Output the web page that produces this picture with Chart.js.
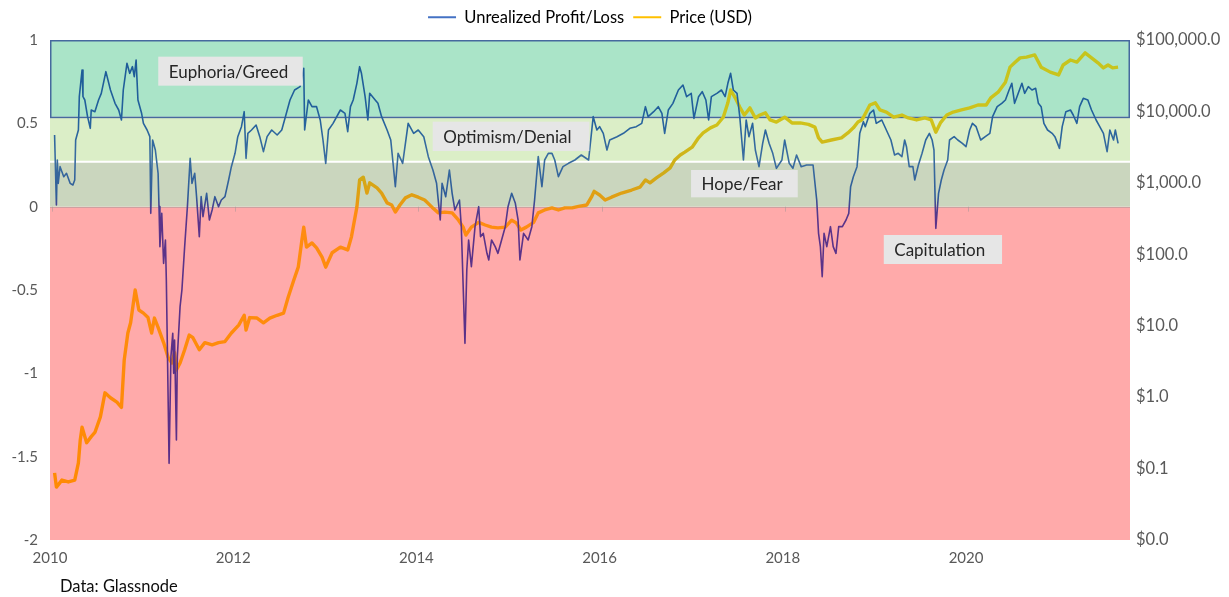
<!DOCTYPE html>
<html>
<head>
<meta charset="utf-8">
<script src="https://cdn.jsdelivr.net/npm/chart.js@4.4.1/dist/chart.umd.min.js"></script>
<style>
  html, body { margin: 0; padding: 0; background: #ffffff; }
  #wrap { width: 1229px; height: 597px; }
</style>
</head>
<body>
<div id="wrap"><canvas id="c" width="1229" height="597"></canvas></div>
<script>
// ---------- DATA ----------
const seriesNames = ['Unrealized Profit/Loss', 'Price (USD)'];

const nuplDates = [
  2010.05,2010.07,2010.08,2010.09,2010.11,2010.15,2010.18,2010.22,2010.25,2010.27,2010.28,2010.31,2010.32,2010.35,2010.36,2010.38,2010.41,2010.44,2010.45,2010.49,
  2010.53,2010.56,2010.61,2010.66,2010.71,2010.75,2010.78,2010.80,2010.84,2010.87,2010.90,2010.92,2010.94,2010.96,2011.00,2011.02,2011.06,2011.09,2011.10,2011.12,
  2011.15,2011.18,2011.19,2011.20,2011.22,2011.24,2011.26,2011.27,2011.28,2011.30,2011.32,2011.34,2011.35,2011.36,2011.38,2011.39,2011.42,2011.44,2011.47,2011.50,
  2011.53,2011.55,2011.58,2011.60,2011.63,2011.65,2011.67,2011.71,2011.74,2011.77,2011.80,2011.84,2011.87,2011.91,2011.95,2011.98,2012.02,2012.05,2012.09,2012.12,
  2012.14,2012.16,2012.20,2012.25,2012.29,2012.33,2012.37,2012.42,2012.48,2012.53,2012.57,2012.62,2012.67,2012.73,2012.77,2012.78,2012.82,2012.86,2012.91,2012.95,
  2012.98,2013.01,2013.04,2013.09,2013.17,2013.22,2013.25,2013.28,2013.31,2013.35,2013.38,2013.40,2013.44,2013.47,2013.49,2013.55,2013.58,2013.62,2013.68,2013.72,
  2013.77,2013.80,2013.85,2013.91,2013.97,2014.02,2014.08,2014.13,2014.18,2014.22,2014.26,2014.28,2014.32,2014.36,2014.39,2014.42,2014.47,2014.49,2014.53,2014.55,
  2014.57,2014.60,2014.64,2014.68,2014.70,2014.73,2014.77,2014.79,2014.82,2014.86,2014.89,2014.93,2014.97,2015.00,2015.04,2015.08,2015.11,2015.13,2015.17,2015.22,
  2015.26,2015.29,2015.33,2015.37,2015.40,2015.44,2015.48,2015.51,2015.55,2015.60,2015.66,2015.73,2015.80,2015.88,2015.93,2015.97,2016.00,2016.04,2016.08,2016.11,
  2016.19,2016.26,2016.33,2016.40,2016.46,2016.50,2016.53,2016.59,2016.64,2016.68,2016.71,2016.75,2016.80,2016.86,2016.91,2016.95,2017.00,2017.03,2017.08,2017.12,
  2017.16,2017.19,2017.22,2017.28,2017.33,2017.37,2017.40,2017.43,2017.46,2017.50,2017.53,2017.57,2017.60,2017.63,2017.67,2017.70,2017.74,2017.78,2017.81,2017.85,
  2017.89,2017.93,2017.99,2018.02,2018.07,2018.11,2018.15,2018.20,2018.26,2018.33,2018.37,2018.39,2018.41,2018.43,2018.45,2018.48,2018.52,2018.55,2018.58,2018.61,
  2018.65,2018.69,2018.72,2018.74,2018.77,2018.81,2018.84,2018.88,2018.90,2018.95,2018.99,2019.02,2019.08,2019.13,2019.18,2019.22,2019.26,2019.30,2019.33,2019.35,
  2019.38,2019.42,2019.44,2019.48,2019.52,2019.56,2019.60,2019.63,2019.65,2019.67,2019.70,2019.73,2019.76,2019.80,2019.82,2019.87,2019.91,2019.96,2020.00,2020.04,
  2020.07,2020.11,2020.16,2020.21,2020.26,2020.29,2020.34,2020.39,2020.43,2020.47,2020.50,2020.53,2020.57,2020.61,2020.64,2020.68,2020.72,2020.76,2020.79,2020.82,
  2020.85,2020.89,2020.94,2020.97,2021.02,2021.05,2021.09,2021.14,2021.17,2021.21,2021.24,2021.28,2021.33,2021.37,2021.42,2021.46,2021.50,2021.54,2021.57,2021.61,
  2021.63,2021.66
];
const nuplValues = [
  0.43,0.01,0.28,0.14,0.24,0.18,0.20,0.14,0.13,0.16,0.40,0.46,0.66,0.82,0.66,0.64,0.54,0.47,0.58,0.57,
  0.64,0.68,0.81,0.70,0.62,0.58,0.52,0.70,0.86,0.80,0.84,0.78,0.88,0.64,0.56,0.50,0.46,0.42,-0.04,0.40,
  0.34,0.20,0.00,-0.24,-0.04,-0.34,-0.20,-0.44,-0.80,-1.54,-0.90,-0.76,-1.00,-0.80,-1.40,-0.90,-0.60,-0.50,-0.24,0.00,
  0.29,0.14,0.20,0.06,-0.18,0.06,-0.06,0.08,-0.08,-0.02,0.06,0.00,0.04,0.06,0.16,0.24,0.32,0.42,0.48,0.57,
  0.29,0.44,0.46,0.49,0.42,0.33,0.42,0.46,0.43,0.46,0.54,0.64,0.70,0.72,0.83,0.46,0.64,0.60,0.60,0.52,
  0.40,0.26,0.46,0.50,0.58,0.56,0.45,0.60,0.64,0.74,0.84,0.80,0.66,0.52,0.68,0.64,0.62,0.54,0.46,0.40,
  0.12,0.32,0.26,0.50,0.44,0.46,0.42,0.30,0.22,0.14,-0.08,0.14,0.06,0.22,0.08,-0.02,0.04,-0.12,-0.82,-0.38,
  -0.20,-0.36,-0.12,0.00,-0.18,-0.16,-0.28,-0.32,-0.20,-0.24,-0.28,-0.20,-0.12,0.00,0.08,0.02,-0.08,-0.32,-0.16,-0.20,
  -0.12,0.04,0.30,0.12,0.28,0.32,0.32,0.28,0.18,0.24,0.26,0.28,0.31,0.28,0.54,0.46,0.48,0.44,0.34,0.40,
  0.42,0.44,0.47,0.48,0.50,0.60,0.54,0.57,0.60,0.56,0.44,0.58,0.62,0.70,0.73,0.66,0.68,0.53,0.66,0.69,
  0.64,0.52,0.66,0.68,0.70,0.66,0.74,0.80,0.70,0.68,0.54,0.28,0.52,0.42,0.50,0.34,0.24,0.38,0.46,0.38,
  0.32,0.23,0.28,0.40,0.26,0.23,0.31,0.24,0.25,0.25,0.04,-0.16,-0.24,-0.42,-0.16,-0.24,-0.12,-0.24,-0.28,-0.12,
  -0.12,-0.08,-0.04,0.12,0.18,0.24,0.44,0.51,0.48,0.56,0.58,0.50,0.52,0.46,0.40,0.31,0.32,0.30,0.40,0.36,
  0.24,0.24,0.16,0.25,0.32,0.40,0.44,0.40,0.34,-0.13,0.08,0.16,0.22,0.28,0.40,0.42,0.40,0.38,0.36,0.46,
  0.50,0.48,0.40,0.42,0.44,0.54,0.60,0.62,0.64,0.70,0.74,0.62,0.68,0.74,0.68,0.72,0.70,0.71,0.62,0.60,
  0.50,0.46,0.44,0.42,0.35,0.48,0.57,0.58,0.55,0.50,0.60,0.65,0.64,0.58,0.52,0.48,0.44,0.33,0.46,0.40,
  0.46,0.38
];

const priceDates = [
  2010.05,2010.07,2010.13,2010.20,2010.27,2010.31,2010.33,2010.35,2010.40,2010.45,2010.49,2010.55,2010.60,2010.66,2010.73,2010.78,2010.81,2010.85,2010.88,2010.93,
  2010.97,2011.02,2011.07,2011.11,2011.14,2011.18,2011.24,2011.29,2011.33,2011.36,2011.38,2011.42,2011.47,2011.52,2011.56,2011.63,2011.69,2011.77,2011.84,2011.91,
  2011.98,2012.06,2012.12,2012.14,2012.18,2012.26,2012.33,2012.40,2012.48,2012.55,2012.60,2012.66,2012.71,2012.75,2012.77,2012.80,2012.86,2012.91,2012.97,2013.01,
  2013.08,2013.17,2013.25,2013.29,2013.35,2013.38,2013.42,2013.46,2013.49,2013.57,2013.62,2013.68,2013.73,2013.77,2013.82,2013.88,2013.95,2014.02,2014.09,2014.17,
  2014.24,2014.31,2014.39,2014.46,2014.51,2014.54,2014.60,2014.68,2014.75,2014.82,2014.89,2014.97,2015.04,2015.09,2015.14,2015.20,2015.28,2015.33,2015.40,2015.48,
  2015.55,2015.62,2015.70,2015.77,2015.86,2015.91,2015.94,2016.00,2016.06,2016.13,2016.24,2016.35,2016.44,2016.50,2016.55,2016.62,2016.70,2016.77,2016.82,2016.88,
  2016.93,2017.01,2017.08,2017.13,2017.21,2017.28,2017.35,2017.40,2017.43,2017.48,2017.53,2017.58,2017.64,2017.70,2017.75,2017.81,2017.86,2017.93,2018.02,2018.10,
  2018.19,2018.28,2018.35,2018.39,2018.43,2018.53,2018.64,2018.71,2018.77,2018.82,2018.86,2018.88,2018.95,2019.01,2019.06,2019.13,2019.21,2019.30,2019.37,2019.46,
  2019.55,2019.62,2019.67,2019.72,2019.79,2019.86,2019.95,2020.04,2020.13,2020.22,2020.27,2020.35,2020.43,2020.48,2020.53,2020.59,2020.66,2020.75,2020.82,2020.92,
  2021.01,2021.06,2021.14,2021.21,2021.30,2021.37,2021.44,2021.50,2021.55,2021.60,2021.66
];
const priceValues = [
  0.087,0.055,0.069,0.065,0.069,0.12,0.25,0.38,0.23,0.28,0.32,0.53,1.15,0.98,0.85,0.72,3.3,7.9,11,31.6,
  16.6,15,13,7.9,12.8,9.5,5.8,3.6,3.0,4.2,2.4,3.0,4.6,7.4,6.8,4.6,5.8,5.4,5.8,6.0,
  7.9,10.2,14,8.7,13,12.8,11,12.8,14,15,25,43,66,158,240,126,144,123,91,66,
  105,126,115,174,457,1100,1200,720,1000,850,720,525,490,390,490,616,680,630,575,457,
  380,390,380,300,240,186,240,280,257,240,234,240,300,275,219,240,280,380,417,447,
  417,447,447,468,490,630,760,676,575,630,720,794,870,1100,1000,1175,1380,1620,2090,2450,
  2690,3160,4270,5000,5890,6460,8300,13200,19950,15500,11500,8900,11200,8100,8900,9550,7600,7100,8300,6900,
  6900,6600,6030,4270,3720,3980,4270,5000,5890,7100,7600,8300,12300,13200,10500,9800,8300,8900,8100,7600,
  8100,7600,5130,6900,8900,9800,10500,11200,12300,12300,15500,18600,25700,41700,47900,56200,57500,61700,41700,35500,
  32400,44700,52500,49000,66000,56200,47900,40700,44700,40700,41700
];

// axis ticks
const leftTicks = [1, 0.5, 0, -0.5, -1, -1.5, -2];
const priceTicks = [0.01, 0.1, 1, 10, 100, 1000, 10000, 100000];
const yearTicks = [2010, 2012, 2014, 2016, 2018, 2020];

// sentiment zones (NUPL value bounds)
const zoneNames = ['Capitulation', 'Hope/Fear', 'Optimism/Denial', 'Euphoria/Greed'];
const zoneLow  = [-2, 0, 0.27, 0.54];
const zoneHigh = [0, 0.27, 0.54, 1];

// ---------- STYLE ----------
const zoneColors = ['#ffaaaa', '#cad6be', '#dbeec7', '#aae4c8'];
const labelBoxes = [ // box corners in axis units
  { text: 'Euphoria/Greed',  x1: 2011.182, x2: 2012.759, y1: 0.900, y2: 0.726 },
  { text: 'Optimism/Denial', x1: 2014.178, x2: 2015.888, y1: 0.510, y2: 0.334 },
  { text: 'Hope/Fear',       x1: 2016.998, x2: 2018.163, y1: 0.220, y2: 0.056 },
  { text: 'Capitulation',    x1: 2019.102, x2: 2020.393, y1: -0.170, y2: -0.344 }
];
const legendColors = ['#4472c4', '#ffc000'];
const FONT = 'Lato';

Chart.defaults.font.family = FONT;
Chart.defaults.color = '#595959';

function nuplGradient(ctx) {
  const chart = ctx.chart;
  if (!chart.chartArea) return '#2e6aa3';
  const ys = chart.scales.y;
  const top = ys.getPixelForValue(1), bot = ys.getPixelForValue(-2);
  const g = chart.ctx.createLinearGradient(0, top, 0, bot);
  const f = v => (1 - v) / 3;
  g.addColorStop(f(1), '#1b5a96');
  g.addColorStop(f(0.55), '#22609c');
  g.addColorStop(f(0.3), '#3a6d9f');
  g.addColorStop(f(0.06), '#2f5c98');
  g.addColorStop(f(0.0), '#4a3f90');
  g.addColorStop(f(-0.08), '#5b3389');
  g.addColorStop(f(-2), '#5a2d86');
  return g;
}
function priceGradient(ctx) {
  const chart = ctx.chart;
  if (!chart.chartArea) return '#ffc000';
  const ys = chart.scales.y;
  const top = ys.getPixelForValue(1), bot = ys.getPixelForValue(-2);
  const g = chart.ctx.createLinearGradient(0, top, 0, bot);
  const f = v => (1 - v) / 3;
  g.addColorStop(f(1), '#c3c51e');
  g.addColorStop(f(0.5), '#d0c21a');
  g.addColorStop(f(0.2), '#cfab18');
  g.addColorStop(f(0.03), '#e59c12');
  g.addColorStop(f(-0.04), '#ff8c12');
  g.addColorStop(f(-2), '#ff8a00');
  return g;
}

const zonePlugin = {
  id: 'zones',
  beforeInit(chart) {
    const legend = chart.legend;
    if (legend) {
      const origFit = legend.fit;
      legend.fit = function () { origFit.call(this); this.height = 40; };
    }
  },
  beforeDatasetsDraw(chart) {
    const { ctx, chartArea: a, scales } = chart;
    const ys = scales.y, xs = scales.x;
    ctx.save();
    for (let i = 0; i < zoneNames.length; i++) {
      const yt = ys.getPixelForValue(zoneHigh[i]);
      const yb = ys.getPixelForValue(zoneLow[i]);
      ctx.fillStyle = zoneColors[i];
      ctx.fillRect(a.left, yt, a.right - a.left, yb - yt);
    }
    // zero line and tick marks
    const y0 = ys.getPixelForValue(0);
    ctx.strokeStyle = 'rgba(170,150,150,0.55)';
    ctx.lineWidth = 1;
    ctx.beginPath();
    ctx.moveTo(a.left, Math.round(y0) + 0.5);
    ctx.lineTo(a.right, Math.round(y0) + 0.5);
    yearTicks.forEach(t => {
      const px = Math.round(xs.getPixelForValue(t)) + 2.5;
      ctx.moveTo(px, y0);
      ctx.lineTo(px, y0 + 5);
    });
    ctx.stroke();
    // white separator between optimism and hope
    const yw = ys.getPixelForValue(zoneLow[2]);
    ctx.strokeStyle = '#ffffff';
    ctx.lineWidth = 2;
    ctx.beginPath();
    ctx.moveTo(a.left, yw);
    ctx.lineTo(a.right, yw);
    ctx.stroke();
    // euphoria outline
    const ye = ys.getPixelForValue(zoneLow[3]);
    const yeTop = ys.getPixelForValue(zoneHigh[3]);
    ctx.strokeStyle = '#46699e';
    ctx.lineWidth = 1.5;
    ctx.strokeRect(a.left + 0.75, yeTop + 0.75, a.right - a.left - 1.5, ye - yeTop);
    ctx.restore();
  },
  afterDatasetsDraw(chart) {
    const { ctx, scales } = chart;
    const ys = scales.y, xs = scales.x;
    ctx.save();
    ctx.font = '17px ' + FONT;
    ctx.textBaseline = 'middle';
    ctx.textAlign = 'left';
    labelBoxes.forEach(b => {
      const x1 = xs.getPixelForValue(b.x1), x2 = xs.getPixelForValue(b.x2);
      const y1 = ys.getPixelForValue(b.y1), y2 = ys.getPixelForValue(b.y2);
      ctx.fillStyle = '#e6e6e6';
      ctx.fillRect(x1, y1, x2 - x1, y2 - y1);
      ctx.fillStyle = '#262626';
      ctx.fillText(b.text, x1 + 10.5, (y1 + y2) / 2 + 1);
    });
    ctx.restore();
  },
  afterDraw(chart) {
    const ctx = chart.ctx;
    ctx.save();
    ctx.font = '16.5px ' + FONT;
    ctx.fillStyle = '#0d0d0d';
    ctx.textBaseline = 'middle';
    ctx.textAlign = 'left';
    ctx.fillText('Data: Glassnode', 60, 587);
    ctx.restore();
  }
};

new Chart(document.getElementById('c'), {
  type: 'line',
  data: {
    datasets: [
      {
        label: seriesNames[0],
        data: nuplDates.map((d, i) => ({ x: d, y: nuplValues[i] })),
        yAxisID: 'y',
        borderColor: nuplGradient,
        borderWidth: 1.6,
        pointRadius: 0,
        tension: 0,
        fill: false,
        borderJoinStyle: 'round'
      },
      {
        label: seriesNames[1],
        data: priceDates.map((d, i) => ({ x: d, y: priceValues[i] })),
        yAxisID: 'y2',
        borderColor: priceGradient,
        borderWidth: 3.4,
        pointRadius: 0,
        tension: 0,
        fill: false,
        borderJoinStyle: 'round'
      }
    ]
  },
  options: {
    responsive: false,
    animation: false,
    devicePixelRatio: 1,
    layout: { padding: { left: 0, right: 0, top: 0, bottom: 0 } },
    plugins: {
      tooltip: { enabled: false },
      legend: {
        position: 'top',
        fullSize: false,
        labels: {
          font: { family: FONT, size: 16.5 },
          color: '#595959',
          boxWidth: 28,
          boxHeight: 2,
          padding: 9,
          generateLabels: () => seriesNames.map((n, i) => ({
            text: n, fillStyle: legendColors[i], strokeStyle: legendColors[i],
            lineWidth: 0, hidden: false, datasetIndex: i
          }))
        }
      }
    },
    scales: {
      x: {
        type: 'linear',
        min: 2010,
        max: 2021.79,
        grid: { display: false, drawTicks: false },
        border: { display: false },
        afterFit(s) { s.height = 57; },
        afterBuildTicks(s) { s.ticks = yearTicks.map(v => ({ value: v })); },
        ticks: {
          font: { family: FONT, size: 15 },
          color: '#595959',
          padding: 9,
          maxRotation: 0,
          autoSkip: false,
          callback: v => String(v)
        }
      },
      y: {
        type: 'linear',
        position: 'left',
        min: -2,
        max: 1,
        grid: { display: false, drawTicks: false },
        border: { display: false },
        afterFit(s) { s.width = 50; },
        afterBuildTicks(s) { s.ticks = leftTicks.map(v => ({ value: v })); },
        ticks: {
          font: { family: FONT, size: 15 },
          color: '#595959',
          padding: 12,
          callback: v => String(v)
        }
      },
      y2: {
        type: 'logarithmic',
        position: 'right',
        min: 0.01,
        max: 100000,
        grid: { display: false, drawTicks: false },
        border: { display: false },
        afterFit(s) { s.width = 99; },
        afterBuildTicks(s) { s.ticks = priceTicks.map(v => ({ value: v })); },
        ticks: {
          font: { family: FONT, size: 16.5 },
          color: '#595959',
          padding: 6,
          autoSkip: false,
          callback: v => '$' + Number(v).toLocaleString('en-US', { minimumFractionDigits: 1, maximumFractionDigits: 1 })
        }
      }
    }
  },
  plugins: [zonePlugin]
});
</script>
</body>
</html>
